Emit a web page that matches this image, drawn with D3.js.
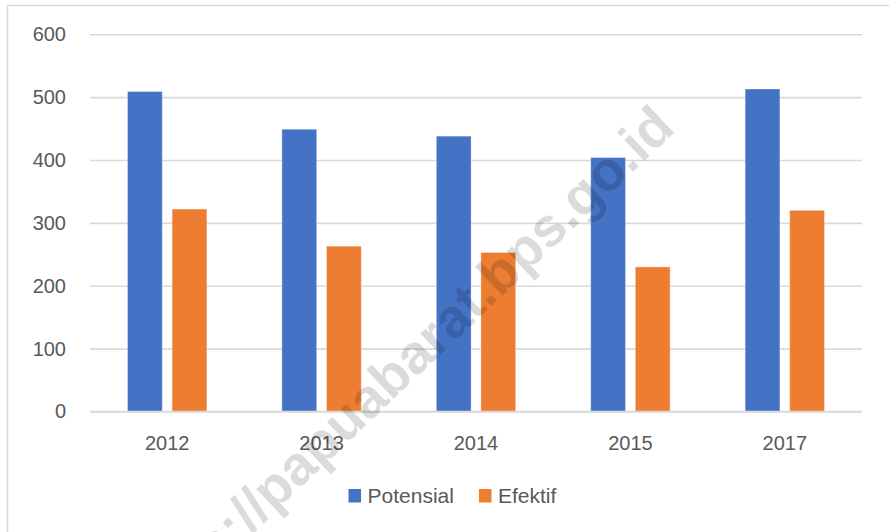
<!DOCTYPE html>
<html>
<head>
<meta charset="utf-8">
<script src="https://cdn.jsdelivr.net/npm/d3@7"></script>
<style>
  body { margin: 0; background: #fff; }
  text { font-family: "Liberation Sans", Arial, sans-serif; }
</style>
</head>
<body>
<div id="chart"></div>
<script>
var years = ["2012", "2013", "2014", "2015", "2017"];
var seriesNames = ["Potensial", "Efektif"];
var potensial = [509, 449, 438, 404, 513];
var efektif = [322, 263, 253, 230, 320];
var yTicks = [0, 100, 200, 300, 400, 500, 600];
var colors = ["#4472c4", "#ed7d31"];

var width = 889, height = 532;
var margin = { top: 34.3, right: 27, bottom: 120.5, left: 90 };

var svg = d3.select("#chart").append("svg")
    .attr("width", width)
    .attr("height", height);

// chart area outline (only top/left visible in the crop)
svg.append("rect")
    .attr("x", 7.5).attr("y", 5.5)
    .attr("width", 900).attr("height", 600)
    .attr("fill", "none")
    .attr("stroke", "#d9d9d9")
    .attr("stroke-width", 1.5);

var x = d3.scaleBand()
    .domain(years)
    .range([margin.left, width - margin.right])
    .paddingInner(0.486)
    .paddingOuter(0.243);

var xs = d3.scaleBand()
    .domain(seriesNames)
    .range([0, x.bandwidth()])
    .paddingInner(0.22);

var y = d3.scaleLinear()
    .domain([0, 600])
    .range([height - margin.bottom, margin.top]);

//gridlines
var yGrid = d3.axisLeft(y)
    .tickValues(yTicks)
    .tickSize(-(width - margin.left - margin.right))
    .tickFormat("");

svg.append("g")
    .attr("transform", "translate(" + margin.left + ",0)")
    .call(yGrid)
    .call(g => g.select(".domain").remove())
    .call(g => g.selectAll("line").attr("stroke", "#d9d9d9").attr("stroke-width", 1.6));

var yAxis = d3.axisLeft(y)
    .tickValues(yTicks)
    .tickSize(0)
    .tickPadding(24);

svg.append("g")
    .attr("transform", "translate(" + margin.left + ",0)")
    .call(yAxis)
    .call(g => g.select(".domain").remove())
    .call(g => g.selectAll("text")
        .attr("fill", "#595959")
        .style("font-size", "20px")
        .style("font-family", "'Liberation Sans', Arial, sans-serif"));

var rows = years.map(function(yr, i) {
    return { year: yr, values: [potensial[i], efektif[i]] };
});

var groups = svg.selectAll(".grp")
    .data(rows)
    .enter().append("g")
    .attr("class", "grp")
    .attr("transform", d => "translate(" + x(d.year) + ",0)");

groups.selectAll("rect")
    .data(d => d.values.map((v, j) => ({ name: seriesNames[j], value: v, j: j })))
    .enter().append("rect")
    .attr("x", d => xs(d.name))
    .attr("y", d => y(d.value))
    .attr("width", xs.bandwidth())
    .attr("height", d => y(0) - y(d.value))
    .attr("fill", d => colors[d.j])
    .attr("stroke", "rgba(255,255,255,0.35)")
    .attr("stroke-width", 1);

// x axis line
var xAxis = d3.axisBottom(x).tickSize(0).tickPadding(24);
svg.append("g")
    .attr("transform", "translate(0," + y(0) + ")")
    .call(xAxis)
    .call(g => g.select(".domain")
        .attr("d", "M" + margin.left + ",0H" + (width - margin.right))
        .attr("stroke", "#d9d9d9").attr("stroke-width", 1.6))
    .call(g => g.selectAll("text")
        .attr("fill", "#595959")
        .style("font-size", "20px")
        .style("font-family", "'Liberation Sans', Arial, sans-serif"));

// legend
var legendX = [348.5, 479];
var legend = svg.selectAll(".leg")
    .data(seriesNames)
    .enter().append("g")
    .attr("class", "leg")
    .attr("transform", (d, i) => "translate(" + legendX[i] + ",489)");

legend.append("rect")
    .attr("width", 12.5).attr("height", 13.5)
    .attr("fill", (d, i) => colors[i]);

legend.append("text")
    .attr("x", 19)
    .attr("y", 14)
    .attr("fill", "#595959")
    .style("font-size", "21px")
    .text(d => d);

// watermark
svg.append("text")
    .attr("transform", "translate(677,130) rotate(-43.5)")
    .attr("text-anchor", "end")
    .attr("fill", "#000")
    .attr("fill-opacity", 0.14)
    .style("font-size", "55px")
    .style("font-weight", "bold")
    .text("http://papuabarat.bps.go.id");
</script>
</body>
</html>
